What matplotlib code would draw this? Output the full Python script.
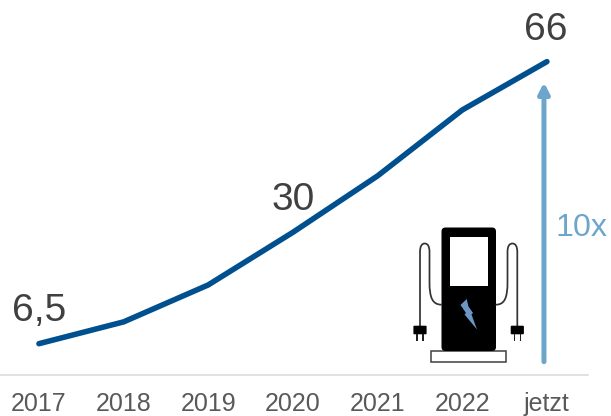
import matplotlib
matplotlib.use("Agg")
import matplotlib.pyplot as plt
from matplotlib.patches import FancyBboxPatch, Rectangle, Polygon, PathPatch
from matplotlib.path import Path
from matplotlib.transforms import Affine2D

plt.rcParams["font.family"] = ["Liberation Sans", "DejaVu Sans"]

W, H = 611, 416
periods = ["2017", "2018", "2019", "2020", "2021", "2022", "jetzt"]
values = [6.5, 11.1, 18.9, 30.0, 41.9, 55.8, 66.0]
value_labels = {0: "6,5", 3: "30", 6: "66"}
growth_label = "10x"

LINE = "#00508F"
ARROW = "#6CA6CD"
LABEL = "#404040"
TICK = "#595959"
RULE = "#D9D9D9"
BOLT = "#6C96C4"

fig = plt.figure(figsize=(W / 100, H / 100), dpi=100)
ax = fig.add_axes([0, 1 - 374.5 / H, 588 / W, 374.5 / H])
ax.set_xlim(-0.46, 6.485)
ax.set_ylim(0, 79)
ax.patch.set_alpha(0)

for side in ("top", "left", "right"):
    ax.spines[side].set_visible(False)
ax.spines["bottom"].set_color(RULE)
ax.spines["bottom"].set_linewidth(1.1)
ax.set_yticks([])
ax.set_xticks(range(len(periods)), periods)
ax.tick_params(axis="x", length=0, pad=12.5, labelsize=18, labelcolor=TICK)

ax.plot(range(len(periods)), values, color=LINE, lw=4.0,
        solid_capstyle="round", solid_joinstyle="round", zorder=3)

# Callouts for the first, middle and latest figures
offsets = {0: (0, 3.1), 3: (0, 3.0), 6: (-0.01, 2.9)}
for i, text in value_labels.items():
    dx, dy = offsets[i]
    ax.text(i + dx, values[i] + dy, text, ha="center", va="bottom",
            fontsize=28, color=LABEL)

# Growth arrow next to the latest value
ax.annotate("", xy=(5.965, 61.6), xytext=(5.965, 2.7),
            arrowprops=dict(arrowstyle="-|>,head_width=0.32,head_length=0.62",
                            color=ARROW, lw=3.6, shrinkA=0, shrinkB=0))
ax.text(6.1, 31, growth_label, ha="left", va="center", fontsize=23.2,
        color=ARROW, clip_on=False)

# Charging station icon, laid out in pixels from the top-left corner
px = Affine2D().scale(1, -1).translate(0, H) + Affine2D().scale(fig.dpi / 100)


def add(patch):
    patch.set_transform(px)
    patch.set_clip_on(False)
    fig.add_artist(patch)


add(Rectangle((430.5, 350.5), 75.5, 11.5, fc="white", ec="#404040", lw=1.1))
add(FancyBboxPatch((445, 231), 47.5, 116.5, boxstyle="round,pad=3.5,rounding_size=4",
                   fc="black", ec="none"))
add(Rectangle((449.7, 236.7), 38, 49, fc="white", ec="none"))
add(Polygon([(466.7, 299), (460.5, 305), (466, 313), (464.5, 314.5),
             (477, 329.5), (471.5, 314.5), (473, 313), (468.5, 306.5)],
            closed=True, fc=BOLT, ec="none"))


def cable(body_x, inner_x, plug_x):
    """One charging cable plus plug, from the station body over the loop to the plug."""
    mid = (inner_x + plug_x) / 2
    verts = [(body_x, 304.7), (body_x - (body_x - inner_x) * 0.75, 304.7),
             (inner_x, 298), (inner_x, 282),
             (inner_x, 252),
             (inner_x, 246), (mid + (inner_x - mid) * 0.6, 243.5), (mid, 243.5),
             (mid + (plug_x - mid) * 0.6, 243.5), (plug_x, 246), (plug_x, 252),
             (plug_x, 326)]
    codes = [Path.MOVETO] + [Path.CURVE4] * 3 + [Path.LINETO] + [Path.CURVE4] * 6 + [Path.LINETO]
    add(PathPatch(Path(verts, codes), fc="none", ec="#333333", lw=1.25))
    add(FancyBboxPatch((plug_x - 5.8, 326.5), 11.6, 7,
                       boxstyle="round,pad=0.8,rounding_size=1", fc="black", ec="none"))
    for dx in (-3.0, 3.0):
        add(Rectangle((plug_x + dx - 0.7, 334), 1.4, 6.5, fc="#222222", ec="none"))


cable(441.7, 429.5, 420)
cable(495.7, 507.5, 517.3)

fig.savefig("out.png", dpi=100)
